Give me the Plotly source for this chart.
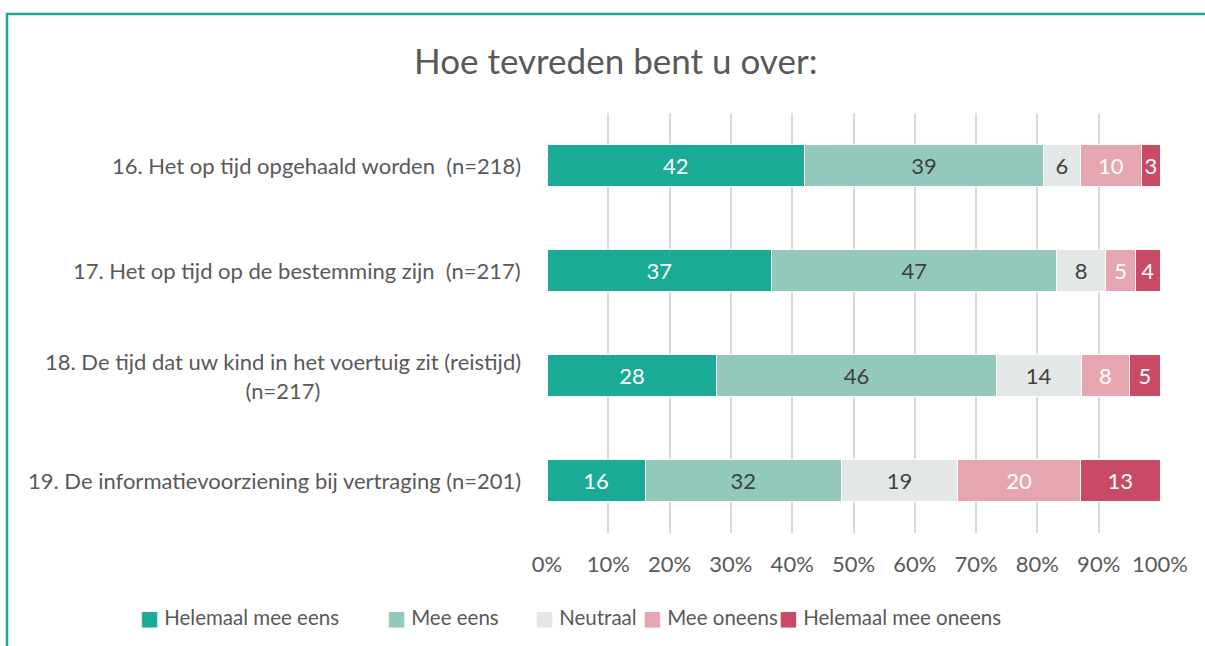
import plotly.graph_objects as go

categories = [
    "16. Het op tijd opgehaald worden\u00a0\u00a0(n=218)",
    "17. Het op tijd op de bestemming zijn\u00a0\u00a0(n=217)",
    "18. De tijd dat uw kind in het voertuig zit (reistijd)<br>(n=217)",
    "19. De informatievoorziening bij vertraging (n=201)",
]
series_names = ["Helemaal mee eens", "Mee eens", "Neutraal", "Mee oneens", "Helemaal mee oneens"]
helemaal_eens = [42, 37, 28, 16]
eens = [39, 47, 46, 32]
neutraal = [6, 8, 14, 19]
oneens = [10, 5, 8, 20]
helemaal_oneens = [3, 4, 5, 13]
x_ticks = list(range(0, 101, 10))

values = [helemaal_eens, eens, neutraal, oneens, helemaal_oneens]
colors = ["#1aab96", "#93c9bd", "#e4e7e7", "#e6a6b1", "#c84a64"]
text_colors = ["#ffffff", "#404040", "#404040", "#ffffff", "#ffffff"]
legend_square_left = [142, 389, 537, 645, 781]  # page px of each legend square's left edge
FONT = "Lato"
GRAY = "#595959"

W, H = 1205, 646
L, R, T, B = 547, 1160, 113, 533
pw, ph = R - L, B - T


def px_x(x):
    return (x - L) / pw


def px_y(y):
    return (B - y) / ph


fig = go.Figure()
ids = list(range(len(categories)))
for name, vals, c, tc in zip(series_names, values, colors, text_colors):
    fig.add_trace(go.Bar(
        y=ids, x=vals, name=name, orientation="h", showlegend=False,
        marker=dict(color=c, line=dict(color="#ffffff", width=1)),
        text=[str(v) for v in vals], textposition="inside", insidetextanchor="middle",
        textfont=dict(family=FONT, size=22, color=tc), constraintext="none",
        hoverinfo="skip",
    ))

legend_layouts = {}
for k, (name, c, sx) in enumerate(zip(series_names, colors, legend_square_left)):
    lname = "legend" if k == 0 else f"legend{k + 1}"
    label = (f"<span style='color:{c};font-family:DejaVu Sans;font-size:20px'>\u25A0</span>"
             f"\u00a0{name}")
    fig.add_trace(go.Scatter(
        x=[None], y=[None], mode="lines", name=label, legend=lname,
        line=dict(color="rgba(0,0,0,0)", width=0), hoverinfo="skip",
    ))
    legend_layouts[lname] = dict(
        orientation="h", x=px_x(sx - 42), xanchor="left", y=px_y(617), yanchor="middle",
        font=dict(family=FONT, size=20.5, color=GRAY), itemwidth=30,
        bgcolor="rgba(0,0,0,0)",
    )

annotations = []
for i, cat in enumerate(categories):
    annotations.append(dict(
        x=px_x(523), xref="paper", y=i, yref="y", text=cat, showarrow=False,
        xanchor="right", yanchor="middle", align="center",
        font=dict(family=FONT, size=22, color=GRAY),
    ))
annotations.append(dict(
    x=px_x(615), xref="paper", y=px_y(60), yref="paper",
    text="Hoe tevreden bent u over:", showarrow=False, xanchor="center", yanchor="middle",
    font=dict(family=FONT, size=35, color=GRAY),
))

fig.update_layout(
    width=W, height=H,
    margin=dict(l=L, r=W - R, t=T, b=H - B, autoexpand=False),
    barmode="stack", barnorm="percent", bargap=0.6,
    plot_bgcolor="#ffffff", paper_bgcolor="#ffffff",
    font=dict(family=FONT, color=GRAY),
    showlegend=True,
    xaxis=dict(range=[0, 100], tickvals=x_ticks, ticktext=[f"{t}%" for t in x_ticks],
               showgrid=True, gridcolor="#d9d9d9", gridwidth=1.5, zeroline=False,
               showline=False, ticks="", ticklabelstandoff=16,
               tickfont=dict(family=FONT, size=22, color=GRAY)),
    yaxis=dict(tickvals=ids, showticklabels=False, autorange=False,
               range=[3.5, -0.5], showgrid=False, zeroline=False, showline=False),
    annotations=annotations,
    shapes=[dict(type="rect", xref="paper", yref="paper",
                 x0=px_x(7), x1=px_x(1260),
                 y0=px_y(700), y1=px_y(14),
                 line=dict(color="#1aab96", width=2.5), fillcolor="rgba(0,0,0,0)", layer="below")],
    **legend_layouts,
)
fig.write_html("out.html", config={"displayModeBar": False},
               post_script="document.body.style.margin='0';document.body.style.overflow='hidden';")
